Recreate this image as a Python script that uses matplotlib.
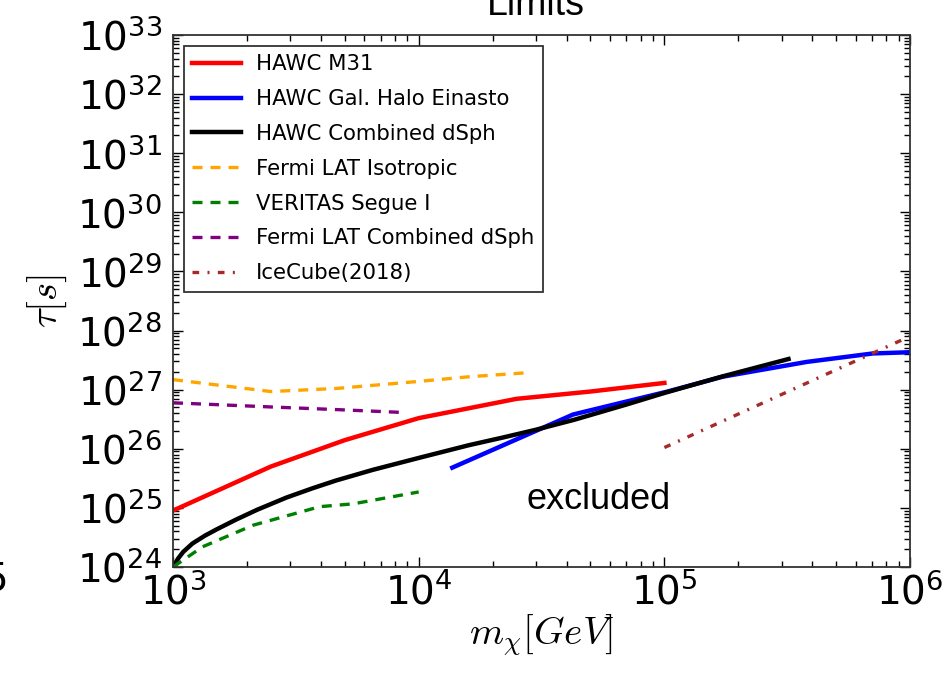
import matplotlib
matplotlib.use('agg')
from matplotlib import pyplot as plt
from matplotlib.ticker import LogLocator, NullFormatter

plt.rcParams['mathtext.fontset'] = 'dejavusans'
plt.rcParams['font.family'] = 'DejaVu Sans'

# dark matter mass [GeV] and lifetime limits [s]
m31_mass = [1e3, 2.5e3, 5e3, 1e4, 2.5e4, 5e4, 1e5]
m31_tau = [9e24, 5e25, 1.4e26, 3.3e26, 7e26, 9.3e26, 1.3e27]

halo_mass = [1.37e4, 4.25e4, 1.03e5, 1.73e5, 3.8e5, 7.06e5, 1e6]
halo_tau = [4.8e25, 3.8e26, 9.3e26, 1.66e27, 2.95e27, 4.1e27, 4.3e27]

dsph_mass = [1e3, 1.05e3, 1.1e3, 1.2e3, 1.35e3, 1.5e3, 1.8e3, 2.2e3, 2.9e3, 3.7e3, 4.6e3,
             6.5e3, 1e4, 1.6e4, 2.2e4, 3e4, 4.3e4, 7e4, 1e5, 1.7e5, 3.2e5]
dsph_tau = [1e24, 1.4e24, 1.8e24, 2.5e24, 3.4e24, 4.3e24, 6.3e24, 9.3e24, 1.5e25, 2.15e25, 2.9e25,
            4.4e25, 7e25, 1.15e26, 1.55e26, 2.1e26, 3.1e26, 5.6e26, 8.8e26, 1.65e27, 3.3e27]

fermi_iso_mass = [1e3, 2.5e3, 4.65e3, 1e4, 1.62e4, 2.84e4]
fermi_iso_tau = [1.48e27, 9.3e26, 1.05e27, 1.38e27, 1.66e27, 1.95e27]

veritas_mass = [1e3, 1.32e3, 2.12e3, 3.96e3, 5.4e3, 1e4]
veritas_tau = [1e24, 2.2e24, 5.1e24, 1.05e25, 1.17e25, 1.86e25]

fermi_dsph_mass = [1e3, 2.5e3, 4.65e3, 8.8e3]
fermi_dsph_tau = [6e26, 5.1e26, 4.6e26, 4.1e26]

icecube_mass = [1e5, 1e6]
icecube_tau = [1.05e26, 8e27]

fig = plt.figure(figsize=(9.48, 6.82), dpi=100)
ax = fig.add_axes([0.1825, 0.1686, 0.7775, 0.7801])

ax.plot(m31_mass, m31_tau, color='red', lw=3.2, label='HAWC M31')
ax.plot(halo_mass, halo_tau, color='blue', lw=3.2, label='HAWC Gal. Halo Einasto')
ax.plot(dsph_mass, dsph_tau, color='black', lw=3.2, label='HAWC Combined dSph')
ax.plot(fermi_iso_mass, fermi_iso_tau, color='orange', lw=2.4, ls=(0, (3, 2.4)),
        label='Fermi LAT Isotropic')
ax.plot(veritas_mass, veritas_tau, color='green', lw=2.4, ls=(0, (3, 2.4)),
        label='VERITAS Segue I')
ax.plot(fermi_dsph_mass, fermi_dsph_tau, color='purple', lw=2.4, ls=(0, (3, 2.4)),
        label='Fermi LAT Combined dSph')
ax.plot(icecube_mass, icecube_tau, color='brown', lw=2.4, ls=(0, (2, 2.5, 0.6, 2.5)),
        label='IceCube(2018)')

ax.set_xscale('log')
ax.set_yscale('log')
ax.set_xlim(1e3, 1e6)
ax.set_ylim(1e24, 1e33)
ax.yaxis.set_major_locator(LogLocator(base=10, numticks=20))
ax.yaxis.set_minor_locator(LogLocator(base=10, subs=range(2, 10), numticks=20))
ax.yaxis.set_minor_formatter(NullFormatter())

ax.tick_params(which='both', direction='in', top=True, right=True, labelsize=28)
ax.tick_params(which='major', length=7, width=1)
ax.tick_params(which='minor', length=4, width=1)
ax.tick_params(axis='x', pad=4)
ax.tick_params(axis='y', pad=8)
for sp in ax.spines.values():
    sp.set_linewidth(1.3)
    sp.set_color('#333333')

ax.set_xlabel(r'$m_\chi[GeV]$', fontsize=28, math_fontfamily='cm', labelpad=0)
ax.set_ylabel(r'$\tau[s]$', fontsize=28, math_fontfamily='cm', labelpad=6)

ax.text(5.4e4, 1.37e25, 'excluded', fontsize=26, family='Liberation Sans',
        ha='center', va='center')

leg = ax.legend(loc='upper left', fontsize=15.3, handlelength=2.3, handletextpad=0.7,
                labelspacing=0.7, borderpad=0.4, borderaxespad=0.5, fancybox=False)
leg.get_frame().set_edgecolor('black')
leg.get_frame().set_linewidth(1.3)

fig.text(0.565, 1 - 15 / 682, 'Limits', fontsize=27, family='Liberation Sans',
         ha='center', va='baseline')
fig.text(0.008, 0.15, '5', fontsize=28, ha='right', va='center')

fig.savefig('out.png', dpi=100, facecolor='white')
